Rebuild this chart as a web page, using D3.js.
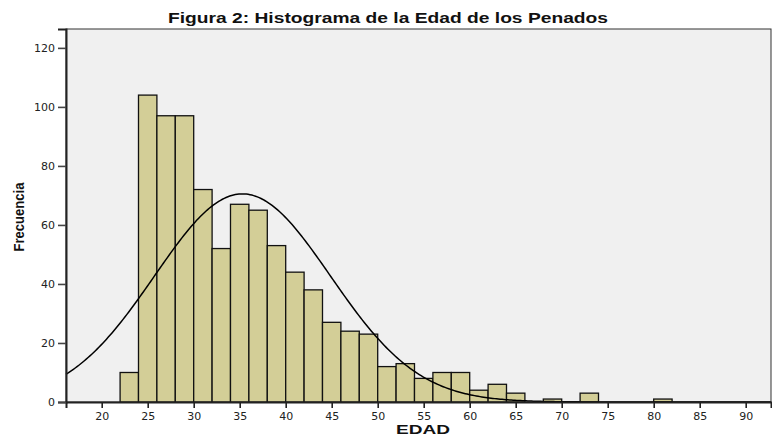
<!DOCTYPE html>
<html>
<head>
<meta charset="utf-8">
<script src="https://cdn.jsdelivr.net/npm/d3@7"></script>
<style>
  html, body { margin: 0; padding: 0; background: #ffffff; }
  svg { display: block; }
</style>
</head>
<body>
<svg id="chart" width="772" height="437"></svg>
<script>
// ---- Data ----
const binStarts = [22, 24, 26, 28, 30, 32, 34, 36, 38, 40, 42, 44, 46, 48, 50, 52, 54, 56, 58, 60, 62, 64, 66, 68, 70, 72, 74, 76, 78, 80];
const counts    = [10, 104, 97, 97, 72, 52, 67, 65, 53, 44, 38, 27, 24, 23, 12, 13, 8, 10, 10, 4, 6, 3, 0, 1, 0, 3, 0, 0, 0, 1];
const binWidth = 2;
const xTicks = [20, 25, 30, 35, 40, 45, 50, 55, 60, 65, 70, 75, 80, 85, 90];
const yTicks = [0, 20, 40, 60, 80, 100, 120];
const meanAge = 35.3;
const sdAge = 9.55;
const titleText = "Figura 2: Histograma de la Edad de los Penados";
const xLabel = "EDAD";
const yLabel = "Frecuencia";

// ---- Layout ----
const svg = d3.select("#chart");
const plot = { left: 66, right: 771, top: 29, bottom: 402 };

const x = d3.scaleLinear().domain([16.12, 92.75]).range([plot.left, plot.right]);
const y = d3.scaleLinear().domain([0, 126.4]).range([plot.bottom, plot.top]);

// plot background
svg.append("rect")
  .attr("x", plot.left).attr("y", plot.top)
  .attr("width", plot.right - plot.left).attr("height", plot.bottom - plot.top)
  .attr("fill", "#f0f0f0")
  .attr("stroke", "#333").attr("stroke-width", 1);

// bars
const bins = binStarts.map((s, i) => ({ x0: s, x1: s + binWidth, n: counts[i] })).filter(d => d.n > 0);
svg.append("g").selectAll("rect").data(bins).join("rect")
  .attr("x", d => x(d.x0))
  .attr("y", d => y(d.n))
  .attr("width", d => x(d.x1) - x(d.x0))
  .attr("height", d => y(0) - y(d.n))
  .attr("fill", "#d3ce97")
  .attr("stroke", "#111")
  .attr("stroke-width", 1.3);

// normal curve
const total = d3.sum(counts);
const curvePts = d3.range(x.domain()[0], x.domain()[1], 0.2).map(v => {
  const z = (v - meanAge) / sdAge;
  return [v, total * binWidth / (sdAge * Math.sqrt(2 * Math.PI)) * Math.exp(-0.5 * z * z)];
});
svg.append("path")
  .datum(curvePts)
  .attr("fill", "none")
  .attr("stroke", "#000")
  .attr("stroke-width", 1.5)
  .attr("d", d3.line().x(d => x(d[0])).y(d => y(d[1])));

// axes
const tickFont = "'DejaVu Sans', Verdana, sans-serif";
const xAxis = d3.axisBottom(x).tickValues(xTicks).tickSize(6).tickPadding(4).tickFormat(d3.format("d"));
const gx = svg.append("g").attr("transform", `translate(0,${plot.bottom})`).call(xAxis);
gx.select(".domain").attr("stroke", "#222").attr("stroke-width", 2);
gx.selectAll(".tick line").attr("stroke", "#222").attr("stroke-width", 1.6);
gx.selectAll(".tick text").attr("fill", "#222").style("font-family", tickFont).style("font-size", "11px");

const yAxis = d3.axisLeft(y).tickValues(yTicks).tickSize(8).tickPadding(3).tickFormat(d3.format("d"));
const gy = svg.append("g").attr("transform", `translate(${plot.left},0)`).call(yAxis);
gy.select(".domain").attr("stroke", "#222").attr("stroke-width", 2);
gy.selectAll(".tick line").attr("stroke", "#444").attr("stroke-width", 1.6);
gy.selectAll(".tick text").attr("fill", "#222").style("font-family", tickFont).style("font-size", "11px");

// title
svg.append("text")
  .attr("x", 388).attr("y", 23)
  .attr("text-anchor", "middle")
  .attr("textLength", 440)
  .attr("lengthAdjust", "spacingAndGlyphs")
  .style("font-family", "Arial, 'Liberation Sans', sans-serif")
  .style("font-weight", "bold")
  .style("font-size", "15px")
  .attr("fill", "#111")
  .text(titleText);

// x label
svg.append("text")
  .attr("x", 423).attr("y", 434)
  .attr("text-anchor", "middle")
  .attr("textLength", 54)
  .attr("lengthAdjust", "spacingAndGlyphs")
  .style("font-family", "Arial, 'Liberation Sans', sans-serif")
  .style("font-weight", "bold")
  .style("font-size", "13px")
  .attr("fill", "#111")
  .text(xLabel);

// y label
svg.append("text")
  .attr("transform", "translate(24,217) rotate(-90)")
  .attr("text-anchor", "middle")
  .attr("textLength", 69)
  .attr("lengthAdjust", "spacingAndGlyphs")
  .style("font-family", "'Liberation Sans Narrow', 'Arial Narrow', Arial, sans-serif")
  .style("font-weight", "bold")
  .style("font-size", "15px")
  .attr("fill", "#111")
  .text(yLabel);
</script>
</body>
</html>
